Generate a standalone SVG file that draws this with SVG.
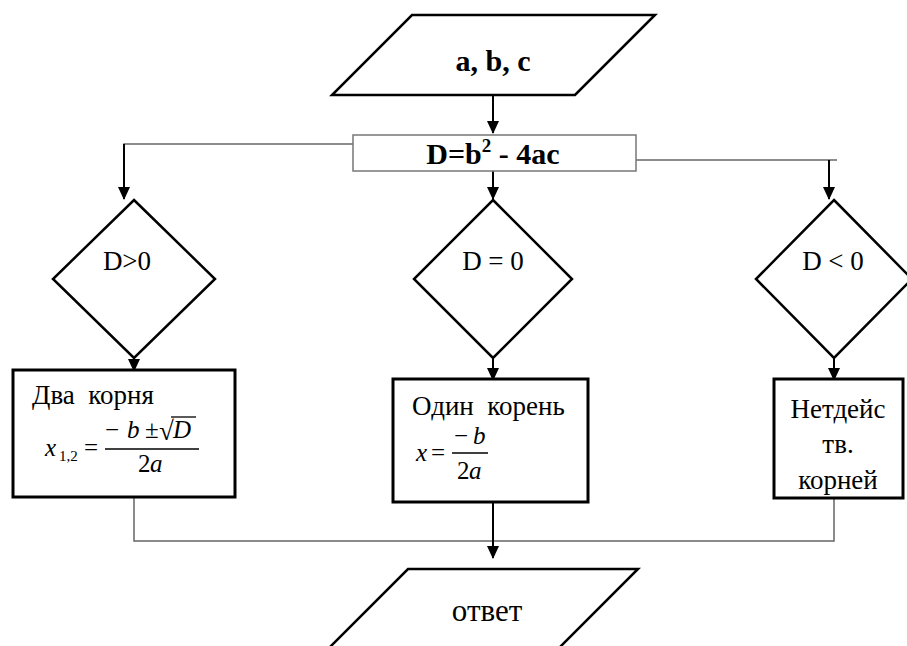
<svg xmlns="http://www.w3.org/2000/svg" width="907" height="646" viewBox="0 0 907 646">
<defs>
<marker id="ah" markerWidth="13" markerHeight="14" refX="12" refY="6" orient="auto" markerUnits="userSpaceOnUse">
<path d="M0,0 L13,6 L0,12 Z" fill="#000"/>
</marker>
<style>
.sh{fill:#fff;stroke:#000;stroke-width:2.5}
.box{fill:#fff;stroke:#000;stroke-width:3}
.thin{fill:#fff;stroke:#777;stroke-width:1.5}
.ln{fill:none;stroke:#666;stroke-width:1.5}
.ar{fill:none;stroke:#000;stroke-width:2}
text{font-family:'Liberation Serif','DejaVu Serif',serif;fill:#000;white-space:pre}
.t{font-size:27px}
.b{font-size:30px;font-weight:bold}
.i{font-size:25px;font-style:italic}
.r{font-size:25px}
.sub{font-size:15px}
.big{font-size:31px}
</style>
</defs>
<g id="connectors">
<line class="ar" x1="493" y1="95" x2="493" y2="133" marker-end="url(#ah)"/>
<polyline class="ln" points="353,144 124,144 124,160"/>
<line class="ar" x1="124" y1="144" x2="124" y2="199" marker-end="url(#ah)"/>
<line class="ar" x1="493" y1="171" x2="493" y2="199" marker-end="url(#ah)"/>
<polyline class="ln" points="636,160 837,160"/>
<line class="ar" x1="829" y1="160" x2="829" y2="199" marker-end="url(#ah)"/>
<line class="ar" x1="134" y1="358" x2="134" y2="371" marker-end="url(#ah)"/>
<line class="ar" x1="493" y1="358" x2="493" y2="380" marker-end="url(#ah)"/>
<line class="ar" x1="834" y1="358" x2="834" y2="380" marker-end="url(#ah)"/>
<polyline class="ln" points="134,497 134,541 834,541 834,498"/>
<line class="ar" x1="493" y1="502" x2="493" y2="558" marker-end="url(#ah)"/>
</g>
<g id="input">
<polygon class="sh" points="412,15 655,15 575,95 332,95"/>
<text class="b" x="493" y="71" text-anchor="middle">a, b, c</text>
</g>
<g id="calcD">
<rect class="thin" x="353" y="135" width="283" height="36"/>
<text class="b" x="493" y="164" text-anchor="middle">D=b<tspan style="font-size:19px" dy="-12">2</tspan><tspan dy="12"> - 4ac</tspan></text>
</g>
<g id="dpos">
<polygon class="sh" points="134,200 215,279 134,358 53,279"/>
<text class="t" x="127" y="270" text-anchor="middle">D&gt;0</text>
</g>
<g id="dzero">
<polygon class="sh" points="493,200 572,279 493,358 414,279"/>
<text class="t" x="493" y="270" text-anchor="middle">D = 0</text>
</g>
<g id="dneg">
<polygon class="sh" points="834,200 912,279 834,358 756,279"/>
<text class="t" x="833" y="270" text-anchor="middle">D &lt; 0</text>
</g>
<g id="tworoots">
<rect class="box" x="13" y="370" width="222" height="127"/>
<text class="t" x="32" y="404">Два  корня</text>
<text class="i" x="45" y="456">x</text>
<text class="sub" x="59" y="461">1,2</text>
<text class="r" x="84" y="456">=</text>
<line x1="105" y1="449" x2="199" y2="449" stroke="#000" stroke-width="1.4"/>
<text class="r" x="105" y="438">−</text>
<text class="i" x="127" y="438">b</text>
<text class="r" x="145" y="438">±</text>
<text class="r" x="159" y="440" style="font-size:27px">√</text>
<line x1="171" y1="417" x2="196" y2="417" stroke="#000" stroke-width="1.3"/>
<text class="i" x="173" y="438">D</text>
<text class="r" x="138" y="472">2</text>
<text class="i" x="150" y="472">a</text>
</g>
<g id="oneroot">
<rect class="box" x="393" y="379" width="195" height="123"/>
<text class="t" x="412" y="415">Один  корень</text>
<text class="i" x="416" y="461">x</text>
<text class="r" x="431" y="461">=</text>
<line x1="452" y1="453" x2="488" y2="453" stroke="#000" stroke-width="1.4"/>
<text class="r" x="454" y="444">−</text>
<text class="i" x="473" y="444">b</text>
<text class="r" x="457" y="479">2</text>
<text class="i" x="469" y="479">a</text>
</g>
<g id="noroots">
<rect class="box" x="774" y="379" width="129" height="119"/>
<text class="t" x="838" y="418" text-anchor="middle">Нетдейс</text>
<text class="t" x="838" y="453" text-anchor="middle">тв.</text>
<text class="t" x="838" y="489" text-anchor="middle">корней</text>
</g>
<g id="answer">
<polygon class="sh" points="408,569 638,569 558,649 328,649"/>
<text class="big" x="487" y="621" text-anchor="middle">ответ</text>
</g>
</svg>
